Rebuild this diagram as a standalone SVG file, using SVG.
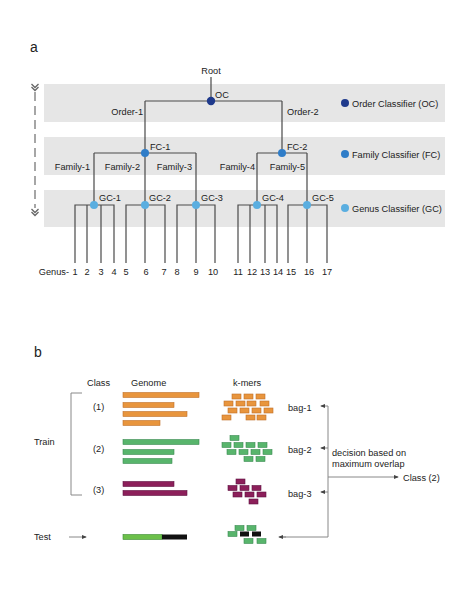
<svg xmlns="http://www.w3.org/2000/svg" width="474" height="613" viewBox="0 0 474 613">
<defs>
<style>
text{font-family:"Liberation Sans",Arial,sans-serif;font-size:9.2px;fill:#222}
.big{font-size:14px}
.band{fill:#e6e6e6}
.tl{stroke:#4a4a4a;stroke-width:1.2;fill:none}
.gl{stroke:#888;stroke-width:1;fill:none}
.oc{fill:#1f3a8c}.fc{fill:#2f7dc8}.gc{fill:#5aaee0}
.or{fill:#e8953d;stroke:#c0712a;stroke-width:0.6}
.gr{fill:#58b56c;stroke:#3b8a52;stroke-width:0.6}
.pu{fill:#8c1f5a;stroke:#5e1240;stroke-width:0.6}
.bk{fill:#111}
.tg{fill:#6cc04a;stroke:#3b8a32;stroke-width:0.6}
</style>
<marker id="ah" viewBox="0 0 6 6" refX="5" refY="3" markerWidth="5" markerHeight="5" orient="auto"><path d="M0,0.5 L6,3 L0,5.5 z" fill="#444"/></marker>
<symbol id="km" overflow="visible"><rect x="0" y="0" width="9" height="5"/></symbol>
</defs>
<rect width="474" height="613" fill="#fff"/>
<text class="big" x="30" y="52">a</text>
<g id="bands">
<rect class="band" x="44" y="84" width="401" height="38"/>
<rect class="band" x="44" y="137" width="401" height="38"/>
<rect class="band" x="44" y="190" width="401" height="37"/>
</g>
<g id="depth-arrow">
<line x1="35" y1="92" x2="35" y2="208" stroke="#777" stroke-width="1.3" stroke-dasharray="9,5"/>
<path d="M31.5,84 L35,87.5 L38.5,84 M31.5,87 L35,90.5 L38.5,87" stroke="#666" stroke-width="1.3" fill="none"/>
<path d="M31.5,209 L35,212.5 L38.5,209 M31.5,212 L35,215.5 L38.5,212" stroke="#666" stroke-width="1.3" fill="none"/>
</g>
<g id="connectors">
<path class="tl" d="M211,77 V101 M145,101 H282 M145,101 V153 M282,101 V153"/>
<path class="tl" d="M94,153 H196 M94,153 V205 M145,153 V205 M196,153 V205"/>
<path class="tl" d="M257,153 H307 M257,153 V205 M307,153 V205"/>
<path class="tl" d="M75,263 V205 H114 V263 M87,205 V263 M101,205 V263"/>
<path class="tl" d="M126,263 V205 H165 V263 M145,205 V263"/>
<path class="tl" d="M177,263 V205 H215 V263 M196,205 V263"/>
<path class="tl" d="M238,263 V205 H277 V263 M250,205 V263 M265,205 V263"/>
<path class="tl" d="M288,263 V205 H327 V263 M307,205 V263"/>
</g>
<g id="root"><text x="211" y="74" text-anchor="middle">Root</text></g>
<g id="OC"><circle class="oc" cx="211" cy="101" r="4.2"/><text x="215" y="98">OC</text></g>
<g id="order-labels"><text x="143" y="115" text-anchor="end">Order-1</text><text x="287" y="115">Order-2</text></g>
<g id="FC-1"><circle class="fc" cx="145" cy="153" r="4"/><text x="150" y="150">FC-1</text></g>
<g id="FC-2"><circle class="fc" cx="282" cy="153" r="4"/><text x="287" y="150">FC-2</text></g>
<g id="family-labels">
<text x="90" y="170" text-anchor="end">Family-1</text>
<text x="140" y="170" text-anchor="end">Family-2</text>
<text x="192" y="170" text-anchor="end">Family-3</text>
<text x="255" y="170" text-anchor="end">Family-4</text>
<text x="305" y="170" text-anchor="end">Family-5</text>
</g>
<g id="GC-1"><circle class="gc" cx="94" cy="205" r="4"/><text x="99" y="201">GC-1</text></g>
<g id="GC-2"><circle class="gc" cx="145" cy="205" r="4"/><text x="149" y="201">GC-2</text></g>
<g id="GC-3"><circle class="gc" cx="196" cy="205" r="4"/><text x="201" y="201">GC-3</text></g>
<g id="GC-4"><circle class="gc" cx="257" cy="205" r="4"/><text x="262" y="201">GC-4</text></g>
<g id="GC-5"><circle class="gc" cx="307" cy="205" r="4"/><text x="312" y="201">GC-5</text></g>
<g id="genus-labels" text-anchor="middle">
<text x="69" y="275" text-anchor="end">Genus-</text>
<text x="75" y="275">1</text><text x="87" y="275">2</text><text x="101" y="275">3</text><text x="114" y="275">4</text>
<text x="126" y="275">5</text><text x="146" y="275">6</text><text x="164" y="275">7</text><text x="177" y="275">8</text>
<text x="196" y="275">9</text><text x="213" y="275">10</text><text x="238" y="275">11</text><text x="252" y="275">12</text>
<text x="265" y="275">13</text><text x="278" y="275">14</text><text x="291" y="275">15</text><text x="309" y="275">16</text>
<text x="327" y="275">17</text>
</g>
<g id="legend">
<circle class="oc" cx="345" cy="103" r="4"/><text x="352" y="107">Order Classifier (OC)</text>
<circle class="fc" cx="345" cy="154" r="4"/><text x="352" y="158">Family Classifier (FC)</text>
<circle class="gc" cx="345" cy="208" r="4"/><text x="352" y="212">Genus Classifier (GC)</text>
</g>

<text class="big" x="34" y="357">b</text>
<g id="headers"><text x="87" y="386">Class</text><text x="131" y="386">Genome</text><text x="233" y="386">k-mers</text></g>
<g id="train-bracket"><path class="gl" d="M82,393 H71 V495 H82"/><text x="34" y="445">Train</text></g>
<g id="class-labels"><text x="93" y="410">(1)</text><text x="93" y="452">(2)</text><text x="93" y="493">(3)</text></g>
<g id="genomes">
<rect class="or" x="123" y="392.5" width="76" height="5"/>
<rect class="or" x="123" y="402.5" width="51" height="5"/>
<rect class="or" x="123" y="411.5" width="64" height="5"/>
<rect class="or" x="123" y="420.5" width="37" height="5"/>
<rect class="gr" x="123" y="439.5" width="76" height="5"/>
<rect class="gr" x="123" y="449.5" width="51" height="5"/>
<rect class="gr" x="123" y="458.5" width="49" height="5"/>
<rect class="pu" x="123" y="481.5" width="51" height="5"/>
<rect class="pu" x="123" y="490.5" width="64" height="5"/>
<rect x="123" y="534.5" width="39" height="5" fill="#6cc04a" stroke="#3b8a32" stroke-width="0.6"/>
<rect class="bk" x="162" y="534.5" width="25" height="5"/>
</g>
<g id="kmers-1" class="or">
<rect x="232" y="394" width="9" height="5"/><rect x="244" y="394" width="9" height="5"/><rect x="256" y="394" width="9" height="5"/>
<rect x="224" y="401" width="9" height="5"/><rect x="236" y="401" width="9" height="5"/><rect x="247" y="401" width="9" height="5"/><rect x="260" y="401" width="9" height="5"/>
<rect x="228" y="408" width="9" height="5"/><rect x="240" y="408" width="9" height="5"/><rect x="252" y="408" width="9" height="5"/><rect x="264" y="408" width="9" height="5"/>
<rect x="222" y="415" width="9" height="5"/><rect x="246" y="415" width="9" height="5"/><rect x="257" y="415" width="9" height="5"/>
</g>
<g id="kmers-2" class="gr">
<rect x="230" y="435.5" width="9" height="5"/>
<rect x="222" y="442.5" width="9" height="5"/><rect x="234" y="442.5" width="9" height="5"/><rect x="246" y="442.5" width="9" height="5"/><rect x="258" y="442.5" width="9" height="5"/>
<rect x="227" y="449.5" width="9" height="5"/><rect x="239" y="449.5" width="9" height="5"/><rect x="251" y="449.5" width="9" height="5"/><rect x="263" y="449.5" width="9" height="5"/>
<rect x="244" y="456.5" width="9" height="5"/><rect x="256" y="456.5" width="9" height="5"/>
</g>
<g id="kmers-3" class="pu">
<rect x="236" y="479" width="9" height="5"/>
<rect x="228" y="485.5" width="9" height="5"/><rect x="240" y="485.5" width="9" height="5"/><rect x="252" y="485.5" width="9" height="5"/>
<rect x="233" y="492" width="9" height="5"/><rect x="245" y="492" width="9" height="5"/><rect x="257" y="492" width="9" height="5"/>
<rect x="249" y="499" width="9" height="5"/>
</g>
<g id="kmers-test">
<rect class="gr" x="235" y="525.5" width="9" height="5"/><rect class="gr" x="247" y="525.5" width="9" height="5"/>
<rect class="gr" x="228" y="531.5" width="9" height="5"/><rect class="bk" x="240" y="531.5" width="9" height="5"/><rect class="bk" x="252" y="531.5" width="9" height="5"/>
<rect class="gr" x="244" y="538.5" width="9" height="5"/><rect class="gr" x="257" y="538.5" width="9" height="5"/>
</g>
<g id="bags"><text x="288" y="411">bag-1</text><text x="288" y="453">bag-2</text><text x="288" y="497">bag-3</text></g>
<g id="decision"><text x="332" y="456">decision based on</text><text x="332" y="467">maximum overlap</text></g>
<g id="class-out"><text x="403" y="481">Class (2)</text></g>
<g id="test"><text x="34" y="540">Test</text></g>
<g id="connectors-b" class="gl">
<path d="M280,537 H328 V406"/>
<line x1="328" y1="406" x2="321" y2="406" marker-end="url(#ah)"/>
<line x1="328" y1="448" x2="321" y2="448" marker-end="url(#ah)"/>
<line x1="328" y1="492" x2="321" y2="492" marker-end="url(#ah)"/>
<line x1="328" y1="477" x2="398" y2="477" marker-end="url(#ah)"/>
<line x1="286" y1="537" x2="279" y2="537" marker-end="url(#ah)"/>
<line x1="69" y1="537" x2="86" y2="537" marker-end="url(#ah)"/>
</g>
</svg>
